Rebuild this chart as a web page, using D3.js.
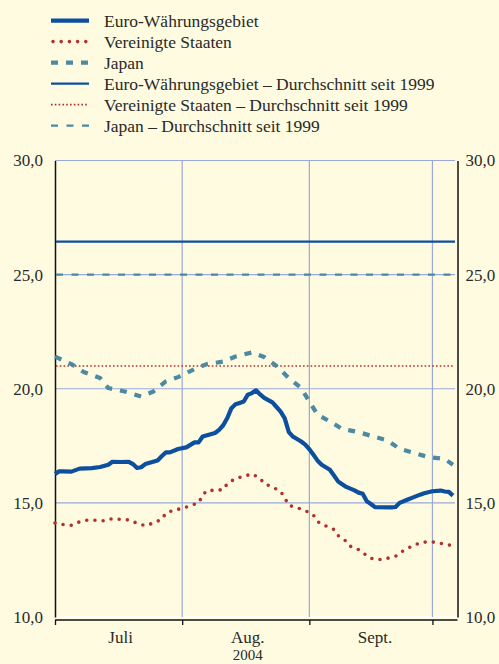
<!DOCTYPE html>
<html><head><meta charset="utf-8">
<script src="https://cdn.jsdelivr.net/npm/d3@7"></script>
<style>
html,body{margin:0;padding:0;background:#fefbe0;}
svg{display:block;}
</style>
</head><body>
<svg id="chart" width="499" height="664"></svg>
<script>
// ---------- data ----------
const yTicks = [10, 15, 20, 25, 30];
const monthStarts = ["2004-07-01", "2004-08-01", "2004-09-01", "2004-10-01"];
const monthLabels = ["Juli", "Aug.", "Sept."];
const monthLabelDates = ["2004-07-17", "2004-08-17", "2004-09-17"];
const yearLabel = "2004";
const legendLabels = [
  "Euro-Währungsgebiet",
  "Vereinigte Staaten",
  "Japan",
  "Euro-Währungsgebiet – Durchschnitt seit 1999",
  "Vereinigte Staaten – Durchschnitt seit 1999",
  "Japan – Durchschnitt seit 1999"
];

const euroDates = ["07-01","07-02","07-03","07-05","07-07","07-10","07-12","07-14","07-15","07-17",
  "07-19","07-20","07-21","07-22","07-23","07-26","07-27","07-28","07-29","07-31",
  "08-02","08-04","08-05","08-06","08-09","08-10","08-11","08-12","08-13","08-14",
  "08-15","08-16","08-17","08-18","08-19","08-20","08-21","08-22","08-23","08-24",
  "08-25","08-26","08-27","08-28","08-29","08-30","08-31","09-01","09-02","09-03",
  "09-04","09-06","09-07","09-08","09-10","09-12","09-13","09-14","09-15","09-16",
  "09-17","09-21","09-22","09-23","09-25","09-26","09-28","09-29","10-01","10-03",
  "10-04","10-05","10-06"];
const euroValues = [16.27,16.38,16.38,16.37,16.5,16.52,16.57,16.67,16.8,16.79,
  16.8,16.7,16.53,16.56,16.7,16.86,17.04,17.21,17.21,17.36,
  17.43,17.65,17.65,17.91,18.06,18.2,18.4,18.72,19.15,19.32,
  19.38,19.44,19.74,19.81,19.93,19.75,19.6,19.5,19.4,19.2,
  19.0,18.7,18.1,17.9,17.8,17.69,17.55,17.35,17.11,16.85,
  16.67,16.45,16.2,15.94,15.70,15.55,15.45,15.4,15.07,14.95,
  14.81,14.80,14.82,15.0,15.15,15.22,15.36,15.42,15.51,15.54,
  15.5,15.48,15.32];

const usDates = ["07-01","07-03","07-05","07-07","07-09","07-11","07-13","07-15","07-17","07-19",
  "07-21","07-23","07-25","07-27","07-28","07-30","08-01","08-03","08-05","08-06",
  "08-07","08-09","08-11","08-12","08-14","08-16","08-18","08-20","08-21","08-23",
  "08-25","08-26","08-27","08-29","08-31","09-02","09-03","09-05","09-07","09-08",
  "09-10","09-11","09-13","09-15","09-16","09-18","09-20","09-22","09-24","09-26",
  "09-28","09-30","10-02","10-04","10-06"];
const usValues = [14.12,14.05,14.02,14.17,14.25,14.24,14.21,14.31,14.28,14.25,
  14.11,14.0,14.12,14.28,14.54,14.69,14.75,14.88,15.0,15.33,
  15.54,15.55,15.58,15.84,16.07,16.16,16.27,16.07,15.84,15.70,
  15.5,15.22,14.89,14.79,14.66,14.46,14.18,13.99,13.83,13.57,
  13.32,13.1,12.95,12.69,12.57,12.51,12.57,12.66,12.92,13.1,
  13.25,13.3,13.27,13.19,13.12];

const japanDates = ["07-01","07-05","07-08","07-12","07-14","07-18","07-22","07-25","07-28","07-31",
  "08-04","08-07","08-11","08-14","08-18","08-21","08-24","08-27","08-30","09-01",
  "09-03","09-06","09-09","09-13","09-16","09-20","09-23","09-26","09-30","10-04","10-06"];
const japanValues = [21.41,21.08,20.73,20.47,20.03,19.88,19.66,19.88,20.32,20.51,
  20.86,21.08,21.19,21.41,21.59,21.39,21.0,20.47,20.03,19.44,
  18.86,18.57,18.24,18.1,17.94,17.74,17.37,17.21,17.01,16.92,16.67];

const euroAverage = 26.45;
const usAverage = 21.0;
const japanAverage = 25.0;

// ---------- setup ----------
(function () {
const FONT = '"Liberation Serif","Times New Roman",Times,"Nimbus Roman","Nimbus Roman No9 L",FreeSerif,Tinos,"Noto Serif","DejaVu Serif",serif';
const parse = d3.timeParse("%Y-%m-%d");
const md = s => parse("2004-" + s);
const deLocale = d3.formatLocale({decimal: ",", thousands: ".", grouping: [3], currency: ["", " €"]});
const fmt = deLocale.format(".1f");

const colEuro = "#0b4f9e", colUS = "#b3302d", colJapan = "#4b8aa2", colGrid = "#9aa8dc", colText = "#2a2a2a";

const svg = d3.select("#chart").attr("font-family", FONT);
svg.append("rect").attr("width", 499).attr("height", 664).attr("fill", "#fefbe0");

const pL = 55, pR = 455, pT = 160.5, pB = 617;
const x = d3.scaleTime().domain([md("07-01"), new Date(2004, 9, 6, 12)]).range([pL, pR]);
const y = d3.scaleLinear().domain([10, 30]).range([pB, pT]);

// grid
const g = svg.append("g");
g.selectAll("line.h").data(yTicks.filter(v => v > 10)).join("line")
  .attr("x1", pL).attr("x2", pR).attr("y1", d => y(d)).attr("y2", d => y(d))
  .attr("stroke", colGrid).attr("stroke-width", 1.2);
g.append("line").attr("x1", pL).attr("x2", pR + 2).attr("y1", y(10)).attr("y2", y(10))
  .attr("stroke", "#ffffff").attr("stroke-width", 1.6);
g.selectAll("line.v").data(monthStarts.slice(1).map(parse)).join("line")
  .attr("x1", d => x(d)).attr("x2", d => x(d)).attr("y1", pT).attr("y2", pB)
  .attr("stroke", colGrid).attr("stroke-width", 1.2);

// axes
const yLeft = svg.append("g").attr("transform", `translate(${pL},0)`)
  .call(d3.axisLeft(y).tickValues(yTicks).tickSize(0).tickPadding(12).tickFormat(fmt));
const yRight = svg.append("g").attr("transform", `translate(${pR + 2.5},0)`)
  .call(d3.axisRight(y).tickValues(yTicks).tickSize(0).tickPadding(8).tickFormat(fmt));
[yLeft, yRight].forEach(a => {
  a.attr("font-family", FONT);
  a.select(".domain").attr("stroke", "#111").attr("stroke-width", 1.5);
  a.selectAll("text").attr("font-size", 17).attr("fill", colText).attr("font-family", FONT);
});

const xAxis = svg.append("g").attr("transform", `translate(0,${pB + 3})`)
  .call(d3.axisBottom(x).tickValues(monthStarts.map(parse)).tickSize(5).tickSizeOuter(0).tickFormat(""));
xAxis.select(".domain").attr("stroke", "#111").attr("stroke-width", 1.3)
  .attr("d", `M${pL},0H${pR + 2.5}`);
xAxis.selectAll(".tick line").attr("stroke", "#111").attr("stroke-width", 1.3);

svg.append("g").selectAll("text").data(monthLabels).join("text")
  .attr("x", (d, i) => x(parse(monthLabelDates[i]))).attr("y", 642.5)
  .attr("text-anchor", "middle").attr("font-size", 17).attr("font-family", FONT)
  .attr("fill", colText).text(d => d);
svg.append("text").attr("x", x(parse(monthLabelDates[1]))).attr("y", 660)
  .attr("text-anchor", "middle").attr("font-size", 15).attr("font-family", FONT)
  .attr("fill", colText).text(yearLabel);

// styles
const styles = [
  {color: colEuro, width: 4.2, dash: null, cap: "butt"},
  {color: colUS, width: 3.6, dash: "0,8.2", cap: "round"},
  {color: colJapan, width: 4.2, dash: "7,8", cap: "butt"},
  {color: colEuro, width: 2.2, dash: null, cap: "butt"},
  {color: colUS, width: 1.6, dash: "1.6,2.2", cap: "butt"},
  {color: colJapan, width: 2.2, dash: "7,8.5", cap: "butt"}
];

// average lines
const plot = svg.append("g");
[euroAverage, usAverage, japanAverage].forEach((v, i) => {
  const s = styles[i + 3];
  plot.append("line").attr("x1", pL + 1).attr("x2", pR).attr("y1", y(v)).attr("y2", y(v))
    .attr("stroke", s.color).attr("stroke-width", s.width)
    .attr("stroke-dasharray", s.dash).attr("stroke-linecap", s.cap);
});

// series
const line = d3.line().x(d => x(d[0])).y(d => y(d[1]));
const series = [
  [euroDates, euroValues],
  [usDates, usValues],
  [japanDates, japanValues]
];
series.forEach(([ds, vs], i) => {
  const s = styles[i];
  plot.append("path").datum(ds.map((d, k) => [md(d), vs[k]]))
    .attr("d", line).attr("fill", "none")
    .attr("stroke", s.color).attr("stroke-width", s.width)
    .attr("stroke-dasharray", s.dash).attr("stroke-linecap", s.cap)
    .attr("stroke-linejoin", "round");
});

// legend
const lg = svg.append("g");
legendLabels.forEach((lab, i) => {
  const cy = 20.6 + i * 21;
  const s = styles[i];
  lg.append("line").attr("x1", i === 1 ? 53 : 51).attr("x2", 89).attr("y1", cy).attr("y2", cy)
    .attr("stroke", s.color).attr("stroke-width", s.width)
    .attr("stroke-dasharray", s.dash).attr("stroke-linecap", s.cap);
  lg.append("text").attr("x", 104).attr("y", cy + 6).attr("font-size", 17.5)
    .attr("font-family", FONT).attr("fill", colText).text(lab);
});
})();
</script>
</body></html>
